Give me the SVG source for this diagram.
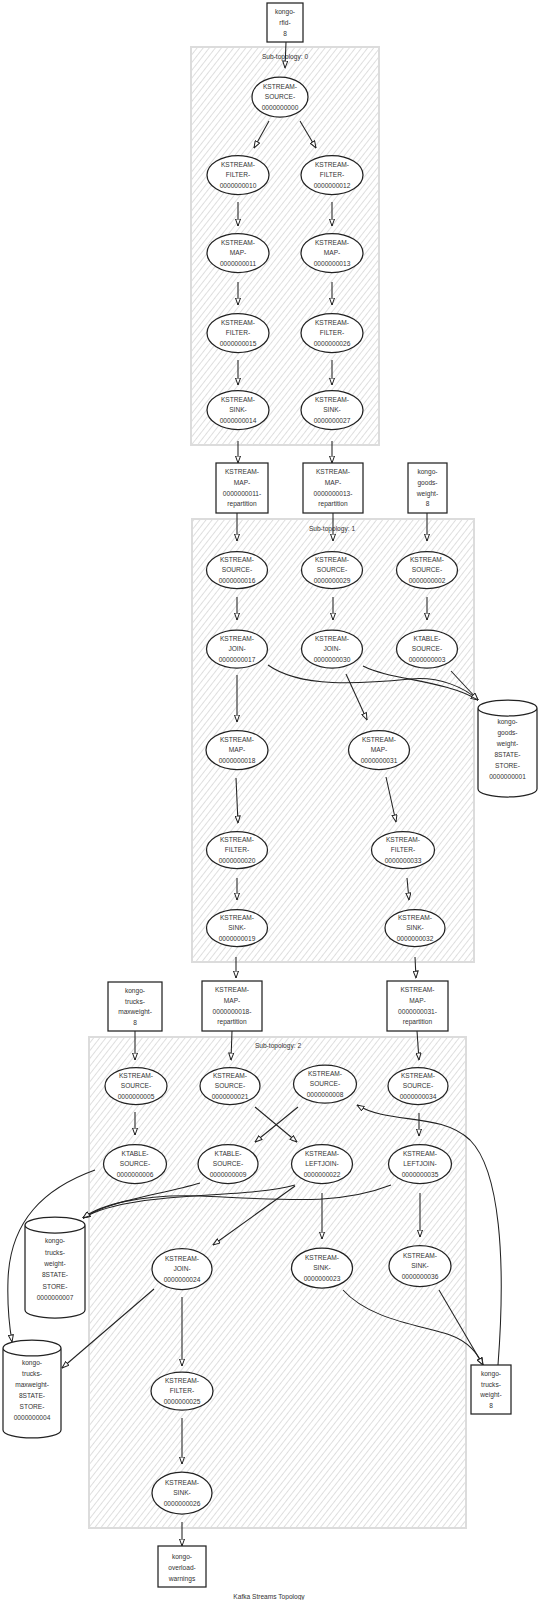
<svg xmlns="http://www.w3.org/2000/svg" width="539" height="1600" viewBox="0 0 539 1600">
<defs>
<style>
text{font-family:"Liberation Sans",Arial,sans-serif;font-size:6.6px;fill:#333;text-anchor:middle}
.cl{fill:url(#hatch);stroke:#dcdcdc;stroke-width:2}
.nd{fill:#fff;stroke:#222;stroke-width:1.25}
.ed{fill:none;stroke:#222;stroke-width:1.05;marker-end:url(#ah)}
</style>
<pattern id="hatch" width="4.8" height="10" patternUnits="userSpaceOnUse" patternTransform="rotate(38)">
<rect width="4.8" height="10" fill="#fff"/>
<line x1="2.4" y1="0" x2="2.4" y2="10" stroke="#d4d4d4" stroke-width="0.75"/>
</pattern>
<marker id="ah" viewBox="0 0 8 6" refX="7.5" refY="3" markerWidth="8" markerHeight="6" orient="auto" markerUnits="userSpaceOnUse">
<path d="M0.5,0.5 L7.5,3 L0.5,5.5 Z" fill="#fff" stroke="#222" stroke-width="1"/>
</marker>
</defs>

<g id="clusters">
<g id="sub0"><rect class="cl" x="191" y="47" width="188" height="398"/><text x="285" y="59">Sub-topology: 0</text></g>
<g id="sub1"><rect class="cl" x="192" y="519" width="282" height="443"/><text x="332" y="531">Sub-topology: 1</text></g>
<g id="sub2"><rect class="cl" x="89" y="1037" width="377" height="491"/><text x="278" y="1048">Sub-topology: 2</text></g>
</g>

<g id="edges">
<path class="ed" d="M286,42 L285,68"/>
<path class="ed" d="M269,121 L254,148"/>
<path class="ed" d="M300,121 L316,148"/>
<path class="ed" d="M238,202 L238,226"/>
<path class="ed" d="M332,202 L332,226"/>
<path class="ed" d="M238,282 L238,305"/>
<path class="ed" d="M332,282 L332,305"/>
<path class="ed" d="M238,360 L238,385"/>
<path class="ed" d="M332,360 L332,385"/>
<path class="ed" d="M238,441 L238,463"/>
<path class="ed" d="M332,441 L332,463"/>

<path class="ed" d="M237,513 L237,541"/>
<path class="ed" d="M333,513 L333,541"/>
<path class="ed" d="M427,513 L427,541"/>
<path class="ed" d="M237,597 L237,620"/>
<path class="ed" d="M333,597 L333,620"/>
<path class="ed" d="M427,597 L427,620"/>
<path class="ed" d="M237,675 L237,722"/>
<path class="ed" d="M346,674 L367,720"/>
<path class="ed" d="M268,665 C300,688 360,684 410,679 C440,676 465,688 478,700"/>
<path class="ed" d="M363,666 C390,680 445,680 478,700"/>
<path class="ed" d="M451,671 L478,700"/>
<path class="ed" d="M236,778 L238,823"/>
<path class="ed" d="M386,777 L396,822"/>
<path class="ed" d="M237,878 L237,900"/>
<path class="ed" d="M407,878 L409,900"/>
<path class="ed" d="M236,957 L236,978"/>
<path class="ed" d="M415,957 L416,978"/>

<path class="ed" d="M135,1031 L135,1060"/>
<path class="ed" d="M232,1031 L231,1060"/>
<path class="ed" d="M417,1031 L419,1060"/>
<path class="ed" d="M135,1112 L135,1135"/>
<path class="ed" d="M255,1107 L297,1142"/>
<path class="ed" d="M298,1107 L255,1142"/>
<path class="ed" d="M419,1113 L419,1136"/>
<path class="ed" d="M95,1170 C45,1188 10,1220 8,1280 C7,1310 10,1330 12,1342"/>
<path class="ed" d="M200,1183 C160,1195 110,1200 83,1218"/>
<path class="ed" d="M295,1185 C240,1200 130,1190 83,1218"/>
<path class="ed" d="M391,1185 C340,1205 290,1200 200,1196 C140,1194 100,1205 83,1218"/>
<path class="ed" d="M295,1186 L213,1245"/>
<path class="ed" d="M322,1193 L322,1239"/>
<path class="ed" d="M420,1193 L420,1237"/>
<path class="ed" d="M154,1289 L62,1368"/>
<path class="ed" d="M182,1297 L182,1366"/>
<path class="ed" d="M343,1290 C370,1320 420,1325 450,1335 C470,1342 478,1355 483,1365"/>
<path class="ed" d="M439,1290 L483,1365"/>
<path class="ed" d="M498,1365 C506,1260 500,1170 470,1140 C440,1112 390,1125 357,1105"/>
<path class="ed" d="M182,1418 L182,1464"/>
<path class="ed" d="M182,1522 L182,1546"/>
</g>

<g id="n_rfid"><rect class="nd" x="267" y="3" width="36" height="39"/><text x="285"><tspan x="285" y="14.3">kongo-</tspan><tspan x="285" y="25">rfid-</tspan><tspan x="285" y="35.7">8</tspan></text></g>
<g id="n_src0"><ellipse class="nd" cx="280" cy="97" rx="28" ry="20"/><text><tspan x="280" y="88.6">KSTREAM-</tspan><tspan x="280" y="99.3">SOURCE-</tspan><tspan x="280" y="110">0000000000</tspan></text></g>
<g id="n_f10"><ellipse class="nd" cx="238" cy="175" rx="31" ry="19.5"/><text><tspan x="238" y="166.6">KSTREAM-</tspan><tspan x="238" y="177.3">FILTER-</tspan><tspan x="238" y="188">0000000010</tspan></text></g>
<g id="n_f12"><ellipse class="nd" cx="332" cy="175" rx="31" ry="19.5"/><text><tspan x="332" y="166.6">KSTREAM-</tspan><tspan x="332" y="177.3">FILTER-</tspan><tspan x="332" y="188">0000000012</tspan></text></g>
<g id="n_m11"><ellipse class="nd" cx="238" cy="253" rx="31" ry="19.5"/><text><tspan x="238" y="244.6">KSTREAM-</tspan><tspan x="238" y="255.3">MAP-</tspan><tspan x="238" y="266">0000000011</tspan></text></g>
<g id="n_m13"><ellipse class="nd" cx="332" cy="253" rx="31" ry="19.5"/><text><tspan x="332" y="244.6">KSTREAM-</tspan><tspan x="332" y="255.3">MAP-</tspan><tspan x="332" y="266">0000000013</tspan></text></g>
<g id="n_f15"><ellipse class="nd" cx="238" cy="333" rx="31" ry="19.5"/><text><tspan x="238" y="324.6">KSTREAM-</tspan><tspan x="238" y="335.3">FILTER-</tspan><tspan x="238" y="346">0000000015</tspan></text></g>
<g id="n_f26"><ellipse class="nd" cx="332" cy="333" rx="31" ry="19.5"/><text><tspan x="332" y="324.6">KSTREAM-</tspan><tspan x="332" y="335.3">FILTER-</tspan><tspan x="332" y="346">0000000026</tspan></text></g>
<g id="n_s14"><ellipse class="nd" cx="238" cy="410" rx="31" ry="19.5"/><text><tspan x="238" y="401.6">KSTREAM-</tspan><tspan x="238" y="412.3">SINK-</tspan><tspan x="238" y="423">0000000014</tspan></text></g>
<g id="n_s27"><ellipse class="nd" cx="332" cy="410" rx="31" ry="19.5"/><text><tspan x="332" y="401.6">KSTREAM-</tspan><tspan x="332" y="412.3">SINK-</tspan><tspan x="332" y="423">0000000027</tspan></text></g>

<g id="n_rep11"><rect class="nd" x="216" y="463" width="52" height="50"/><text><tspan x="242" y="474.3">KSTREAM-</tspan><tspan x="242" y="485">MAP-</tspan><tspan x="242" y="495.6">0000000011-</tspan><tspan x="242" y="506.3">repartition</tspan></text></g>
<g id="n_rep13"><rect class="nd" x="303" y="463" width="60" height="50"/><text><tspan x="333" y="474.3">KSTREAM-</tspan><tspan x="333" y="485">MAP-</tspan><tspan x="333" y="495.6">0000000013-</tspan><tspan x="333" y="506.3">repartition</tspan></text></g>
<g id="n_goods"><rect class="nd" x="408" y="463" width="39" height="50"/><text><tspan x="427.5" y="474.3">kongo-</tspan><tspan x="427.5" y="485">goods-</tspan><tspan x="427.5" y="495.6">weight-</tspan><tspan x="427.5" y="506.3">8</tspan></text></g>

<g id="n_src16"><ellipse class="nd" cx="237" cy="570" rx="30.5" ry="18.5"/><text><tspan x="237" y="561.6">KSTREAM-</tspan><tspan x="237" y="572.3">SOURCE-</tspan><tspan x="237" y="583">0000000016</tspan></text></g>
<g id="n_src29"><ellipse class="nd" cx="332" cy="570" rx="30.5" ry="18.5"/><text><tspan x="332" y="561.6">KSTREAM-</tspan><tspan x="332" y="572.3">SOURCE-</tspan><tspan x="332" y="583">0000000029</tspan></text></g>
<g id="n_src02"><ellipse class="nd" cx="427" cy="570" rx="30.5" ry="18.5"/><text><tspan x="427" y="561.6">KSTREAM-</tspan><tspan x="427" y="572.3">SOURCE-</tspan><tspan x="427" y="583">0000000002</tspan></text></g>
<g id="n_j17"><ellipse class="nd" cx="237" cy="649" rx="30.5" ry="19"/><text><tspan x="237" y="640.6">KSTREAM-</tspan><tspan x="237" y="651.3">JOIN-</tspan><tspan x="237" y="662">0000000017</tspan></text></g>
<g id="n_j30"><ellipse class="nd" cx="332" cy="649" rx="30.5" ry="19"/><text><tspan x="332" y="640.6">KSTREAM-</tspan><tspan x="332" y="651.3">JOIN-</tspan><tspan x="332" y="662">0000000030</tspan></text></g>
<g id="n_kt03"><ellipse class="nd" cx="427" cy="649" rx="30.5" ry="19"/><text><tspan x="427" y="640.6">KTABLE-</tspan><tspan x="427" y="651.3">SOURCE-</tspan><tspan x="427" y="662">0000000003</tspan></text></g>
<g id="n_store01"><path class="nd" d="M478,708 A29.5,8 0 0 1 537,708 L537,789 A29.5,8 0 0 1 478,789 Z M478,708 A29.5,8 0 0 0 537,708"/><text><tspan x="507.5" y="724.3">kongo-</tspan><tspan x="507.5" y="735.3">goods-</tspan><tspan x="507.5" y="746.3">weight-</tspan><tspan x="507.5" y="757.3">8STATE-</tspan><tspan x="507.5" y="768.3">STORE-</tspan><tspan x="507.5" y="779.3">0000000001</tspan></text></g>
<g id="n_m18"><ellipse class="nd" cx="237" cy="750" rx="31" ry="19.5"/><text><tspan x="237" y="741.6">KSTREAM-</tspan><tspan x="237" y="752.3">MAP-</tspan><tspan x="237" y="763">0000000018</tspan></text></g>
<g id="n_m31"><ellipse class="nd" cx="379" cy="750" rx="30.5" ry="19.5"/><text><tspan x="379" y="741.6">KSTREAM-</tspan><tspan x="379" y="752.3">MAP-</tspan><tspan x="379" y="763">0000000031</tspan></text></g>
<g id="n_f20"><ellipse class="nd" cx="237" cy="850" rx="30.5" ry="18.5"/><text><tspan x="237" y="841.6">KSTREAM-</tspan><tspan x="237" y="852.3">FILTER-</tspan><tspan x="237" y="863">0000000020</tspan></text></g>
<g id="n_f33"><ellipse class="nd" cx="403" cy="850" rx="31.5" ry="18.5"/><text><tspan x="403" y="841.6">KSTREAM-</tspan><tspan x="403" y="852.3">FILTER-</tspan><tspan x="403" y="863">0000000033</tspan></text></g>
<g id="n_sk19"><ellipse class="nd" cx="237" cy="928" rx="30.5" ry="18.5"/><text><tspan x="237" y="919.6">KSTREAM-</tspan><tspan x="237" y="930.3">SINK-</tspan><tspan x="237" y="941">0000000019</tspan></text></g>
<g id="n_sk32"><ellipse class="nd" cx="415" cy="928" rx="30" ry="18.5"/><text><tspan x="415" y="919.6">KSTREAM-</tspan><tspan x="415" y="930.3">SINK-</tspan><tspan x="415" y="941">0000000032</tspan></text></g>

<g id="n_maxw"><rect class="nd" x="108" y="982" width="54" height="49"/><text><tspan x="135" y="992.8">kongo-</tspan><tspan x="135" y="1003.5">trucks-</tspan><tspan x="135" y="1014.1">maxweight-</tspan><tspan x="135" y="1024.8">8</tspan></text></g>
<g id="n_rep18"><rect class="nd" x="202" y="981" width="60" height="50"/><text><tspan x="232" y="992.3">KSTREAM-</tspan><tspan x="232" y="1003">MAP-</tspan><tspan x="232" y="1013.6">0000000018-</tspan><tspan x="232" y="1024.3">repartition</tspan></text></g>
<g id="n_rep31"><rect class="nd" x="387" y="981" width="61" height="50"/><text><tspan x="417.5" y="992.3">KSTREAM-</tspan><tspan x="417.5" y="1003">MAP-</tspan><tspan x="417.5" y="1013.6">0000000031-</tspan><tspan x="417.5" y="1024.3">repartition</tspan></text></g>

<g id="n_src05"><ellipse class="nd" cx="136" cy="1086" rx="31" ry="18.5"/><text><tspan x="136" y="1077.6">KSTREAM-</tspan><tspan x="136" y="1088.3">SOURCE-</tspan><tspan x="136" y="1099">0000000005</tspan></text></g>
<g id="n_src21"><ellipse class="nd" cx="230" cy="1086" rx="30" ry="18.5"/><text><tspan x="230" y="1077.6">KSTREAM-</tspan><tspan x="230" y="1088.3">SOURCE-</tspan><tspan x="230" y="1099">0000000021</tspan></text></g>
<g id="n_src08"><ellipse class="nd" cx="325" cy="1084" rx="31.5" ry="19"/><text><tspan x="325" y="1075.6">KSTREAM-</tspan><tspan x="325" y="1086.3">SOURCE-</tspan><tspan x="325" y="1097">0000000008</tspan></text></g>
<g id="n_src34"><ellipse class="nd" cx="418" cy="1086" rx="30" ry="18.5"/><text><tspan x="418" y="1077.6">KSTREAM-</tspan><tspan x="418" y="1088.3">SOURCE-</tspan><tspan x="418" y="1099">0000000034</tspan></text></g>
<g id="n_kt06"><ellipse class="nd" cx="135" cy="1164" rx="31.5" ry="19.5"/><text><tspan x="135" y="1155.6">KTABLE-</tspan><tspan x="135" y="1166.3">SOURCE-</tspan><tspan x="135" y="1177">0000000006</tspan></text></g>
<g id="n_kt09"><ellipse class="nd" cx="228" cy="1164" rx="30" ry="19.5"/><text><tspan x="228" y="1155.6">KTABLE-</tspan><tspan x="228" y="1166.3">SOURCE-</tspan><tspan x="228" y="1177">0000000009</tspan></text></g>
<g id="n_lj22"><ellipse class="nd" cx="322" cy="1164" rx="30.5" ry="19.5"/><text><tspan x="322" y="1155.6">KSTREAM-</tspan><tspan x="322" y="1166.3">LEFTJOIN-</tspan><tspan x="322" y="1177">0000000022</tspan></text></g>
<g id="n_lj35"><ellipse class="nd" cx="420" cy="1164" rx="31.5" ry="19.5"/><text><tspan x="420" y="1155.6">KSTREAM-</tspan><tspan x="420" y="1166.3">LEFTJOIN-</tspan><tspan x="420" y="1177">0000000035</tspan></text></g>
<g id="n_store07"><path class="nd" d="M25,1225 A30,8 0 0 1 85,1225 L85,1310 A30,8 0 0 1 25,1310 Z M25,1225 A30,8 0 0 0 85,1225"/><text><tspan x="55" y="1243.3">kongo-</tspan><tspan x="55" y="1254.6">trucks-</tspan><tspan x="55" y="1265.9">weight-</tspan><tspan x="55" y="1277.2">8STATE-</tspan><tspan x="55" y="1288.5">STORE-</tspan><tspan x="55" y="1299.8">0000000007</tspan></text></g>
<g id="n_j24"><ellipse class="nd" cx="182" cy="1269" rx="30" ry="20.5"/><text><tspan x="182" y="1260.6">KSTREAM-</tspan><tspan x="182" y="1271.3">JOIN-</tspan><tspan x="182" y="1282">0000000024</tspan></text></g>
<g id="n_sk23"><ellipse class="nd" cx="322" cy="1268" rx="30.5" ry="20"/><text><tspan x="322" y="1259.6">KSTREAM-</tspan><tspan x="322" y="1270.3">SINK-</tspan><tspan x="322" y="1281">0000000023</tspan></text></g>
<g id="n_sk36"><ellipse class="nd" cx="420" cy="1266" rx="31" ry="20.5"/><text><tspan x="420" y="1257.6">KSTREAM-</tspan><tspan x="420" y="1268.3">SINK-</tspan><tspan x="420" y="1279">0000000036</tspan></text></g>
<g id="n_store04"><path class="nd" d="M3,1348 A29,8 0 0 1 61,1348 L61,1430 A29,8 0 0 1 3,1430 Z M3,1348 A29,8 0 0 0 61,1348"/><text><tspan x="32" y="1365.3">kongo-</tspan><tspan x="32" y="1376.3">trucks-</tspan><tspan x="32" y="1387.3">maxweight-</tspan><tspan x="32" y="1398.3">8STATE-</tspan><tspan x="32" y="1409.3">STORE-</tspan><tspan x="32" y="1420.3">0000000004</tspan></text></g>
<g id="n_f25"><ellipse class="nd" cx="182" cy="1391" rx="31" ry="19"/><text><tspan x="182" y="1382.6">KSTREAM-</tspan><tspan x="182" y="1393.3">FILTER-</tspan><tspan x="182" y="1404">0000000025</tspan></text></g>
<g id="n_sk26"><ellipse class="nd" cx="182" cy="1493" rx="30" ry="21"/><text><tspan x="182" y="1484.6">KSTREAM-</tspan><tspan x="182" y="1495.3">SINK-</tspan><tspan x="182" y="1506">0000000026</tspan></text></g>
<g id="n_tw"><rect class="nd" x="471" y="1365" width="40" height="49"/><text><tspan x="491" y="1375.8">kongo-</tspan><tspan x="491" y="1386.5">trucks-</tspan><tspan x="491" y="1397.1">weight-</tspan><tspan x="491" y="1407.8">8</tspan></text></g>
<g id="n_over"><rect class="nd" x="158" y="1546" width="48" height="41"/><text><tspan x="182" y="1558.8">kongo-</tspan><tspan x="182" y="1570.3">overload-</tspan><tspan x="182" y="1581.3">warnings</tspan></text></g>

<text id="title" x="269" y="1598.5">Kafka Streams Topology</text>
</svg>
